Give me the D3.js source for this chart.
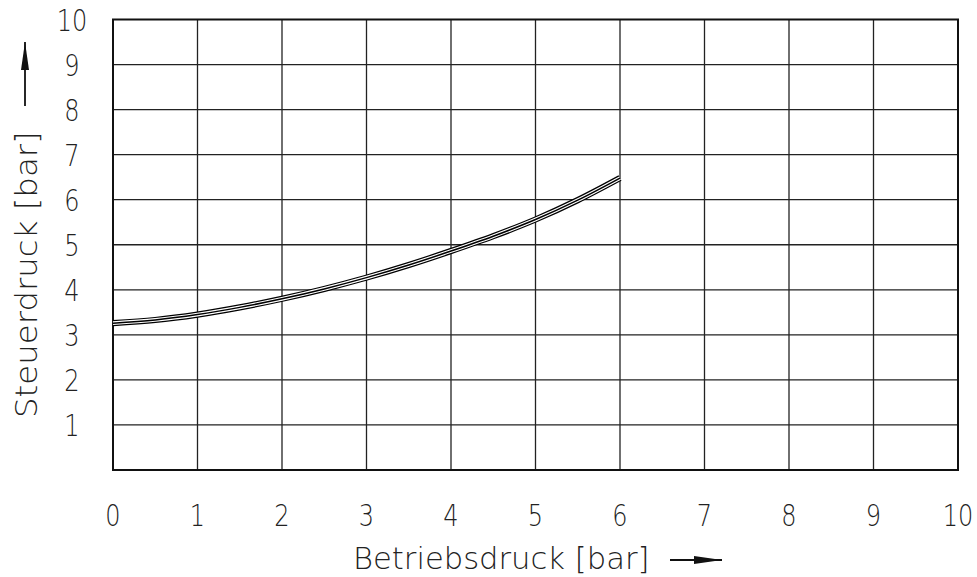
<!DOCTYPE html>
<html><head><meta charset="utf-8">
<script src="https://cdn.jsdelivr.net/npm/d3@7"></script>
<style>
html,body{margin:0;padding:0;background:#fff;}
svg text{font-family:"DejaVu Sans","Liberation Sans",sans-serif;font-weight:200;fill:#222;}
</style></head>
<body>
<svg id="chart" width="977" height="577"></svg>
<script>
const xTicks = [0,1,2,3,4,5,6,7,8,9,10];
const yTicks = [1,2,3,4,5,6,7,8,9,10];
const betriebsdruck = [0,0.5,1,1.5,2,2.5,3,3.5,4,4.5,5,5.5,6];
const steuerdruck   = [3.26,3.33,3.45,3.61,3.80,4.02,4.27,4.55,4.86,5.19,5.56,5.99,6.48];
const xTitle = "Betriebsdruck [bar]";
const yTitle = "Steuerdruck [bar]";

const svg = d3.select("#chart");
const L=113, R=958, T=19.5, B=470;
const x = d3.scaleLinear().domain([0,10]).range([L,R]);
const y = d3.scaleLinear().domain([0,10]).range([B,T]);

// grid
svg.append("g").selectAll("line").data(xTicks.filter(d=>d>0&&d<10)).join("line")
  .attr("x1",d=>x(d)).attr("x2",d=>x(d)).attr("y1",T).attr("y2",B)
  .attr("stroke","#222").attr("stroke-width",1.3);
svg.append("g").selectAll("line").data(yTicks.filter(d=>d<10)).join("line")
  .attr("y1",d=>y(d)).attr("y2",d=>y(d)).attr("x1",L).attr("x2",R)
  .attr("stroke","#222").attr("stroke-width",1.3);
svg.append("rect").attr("x",L).attr("y",T).attr("width",R-L).attr("height",B-T)
  .attr("fill","none").attr("stroke","#111").attr("stroke-width",2);

// tick labels
const fs = 30;
svg.append("g").selectAll("text").data(xTicks).join("text")
  .attr("transform",d=>`translate(${x(d)},${526}) scale(0.8,1)`)
  .attr("text-anchor","middle").attr("font-size",fs).text(d=>d);
svg.append("g").selectAll("text").data(yTicks).join("text")
  .attr("transform",d=>`translate(72,${y(d)+11}) scale(0.8,1)`)
  .attr("text-anchor","middle").attr("font-size",fs).text(d=>d);

// titles
svg.append("text").attr("transform",`translate(353,569) scale(1.02,1)`)
  .attr("font-size",30).text(xTitle);
svg.append("text").attr("transform",`translate(37,418) rotate(-90) scale(1.08,1)`)
  .attr("font-size",30).text(yTitle);

// arrows
svg.append("line").attr("x1",670).attr("x2",722).attr("y1",560).attr("y2",560)
  .attr("stroke","#111").attr("stroke-width",1.8);
svg.append("path").attr("d","M694,556 L722,560 L694,564 Z").attr("fill","#111");
svg.append("line").attr("x1",25).attr("x2",25).attr("y1",106).attr("y2",42)
  .attr("stroke","#111").attr("stroke-width",1.8);
svg.append("path").attr("d","M21,70 L25,42 L29,70 Z").attr("fill","#111");

// curve
const pts = betriebsdruck.map((v,i)=>[v,steuerdruck[i]]);
const line = d3.line().x(d=>x(d[0])).y(d=>y(d[1])).curve(d3.curveCatmullRom);
const g = svg.append("g").attr("fill","none");
g.append("path").attr("d",line(pts)).attr("stroke","#000").attr("stroke-width",6.2);
g.append("path").attr("d",line(pts)).attr("stroke","#fff").attr("stroke-width",3.8);
g.append("path").attr("d",line(pts)).attr("stroke","#000").attr("stroke-width",1.5);
</script>
</body></html>
